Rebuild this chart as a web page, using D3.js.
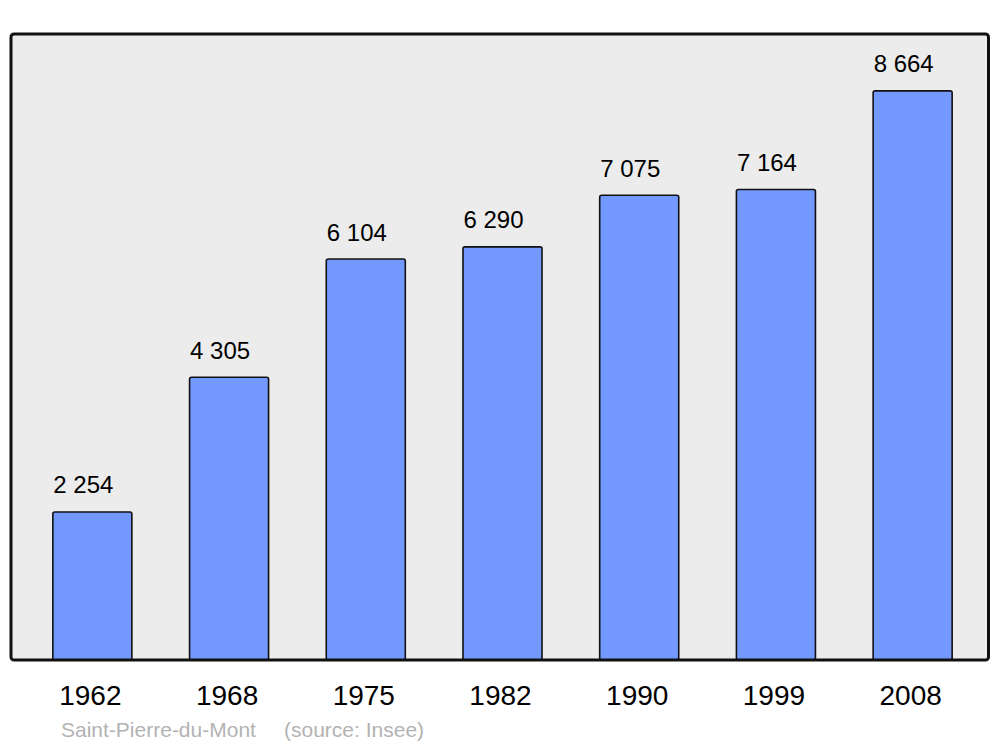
<!DOCTYPE html>
<html>
<head>
<meta charset="utf-8">
<script src="https://cdn.jsdelivr.net/npm/d3@7"></script>
<style>
  html, body { margin: 0; padding: 0; background: #ffffff; }
  svg { display: block; }
</style>
</head>
<body>
<svg id="chart" width="1000" height="747"></svg>
<script>
const years = ["1962", "1968", "1975", "1982", "1990", "1999", "2008"];
const population = [2254, 4305, 6104, 6290, 7075, 7164, 8664];
const commune = "Saint-Pierre-du-Mont";
const sourceText = "(source: Insee)";

const svg = d3.select("#chart");
const frame = { x: 11, y: 34, w: 977.5, h: 626 };
const baseY = frame.y + frame.h;

const x = d3.scaleBand()
  .domain(years)
  .range([24, 981])
  .paddingInner(0.422)
  .paddingOuter(0.211);

const y = d3.scaleLinear()
  .domain([0, d3.max(population) * 1.1])
  .range([baseY, frame.y]);

const fmt = v => d3.format(",")(v).replace(/,/g, " ");

svg.append("rect")
  .attr("x", frame.x).attr("y", frame.y)
  .attr("width", frame.w).attr("height", frame.h)
  .attr("rx", 3).attr("ry", 3)
  .attr("fill", "#ececec");

const data = years.map((yr, i) => ({ year: yr, value: population[i] }));

svg.append("g").selectAll("rect")
  .data(data)
  .join("rect")
  .attr("x", d => x(d.year))
  .attr("y", d => y(d.value))
  .attr("width", x.bandwidth())
  .attr("height", d => baseY - y(d.value))
  .attr("rx", 2).attr("ry", 2)
  .attr("fill", "#7399ff")
  .attr("stroke", "#111111")
  .attr("stroke-width", 1.6);

svg.append("g").selectAll("text")
  .data(data)
  .join("text")
  .attr("x", d => x(d.year) + 0.5)
  .attr("y", d => y(d.value) - 18.5)
  .attr("font-family", "Liberation Sans, Arial, sans-serif")
  .attr("font-size", 24)
  .attr("fill", "#000")
  .text(d => fmt(d.value));

svg.append("rect")
  .attr("x", frame.x).attr("y", frame.y)
  .attr("width", frame.w).attr("height", frame.h)
  .attr("rx", 3).attr("ry", 3)
  .attr("fill", "none")
  .attr("stroke", "#111111")
  .attr("stroke-width", 3);

const xAxis = d3.axisBottom(x).tickSize(0).tickPadding(0);
const gx = svg.append("g")
  .attr("transform", `translate(-2, ${baseY})`)
  .call(xAxis);
gx.select(".domain").remove();
gx.selectAll("text")
  .attr("y", 45)
  .attr("dy", 0)
  .attr("font-family", "Liberation Sans, Arial, sans-serif")
  .attr("font-size", 28)
  .attr("fill", "#000");

svg.append("text")
  .attr("x", 61).attr("y", 737)
  .attr("font-family", "Liberation Sans, Arial, sans-serif")
  .attr("font-size", 21)
  .attr("fill", "#b3b3b3")
  .text(commune);
svg.append("text")
  .attr("x", 284).attr("y", 737)
  .attr("font-family", "Liberation Sans, Arial, sans-serif")
  .attr("font-size", 21)
  .attr("fill", "#b3b3b3")
  .text(sourceText);
</script>
</body>
</html>
